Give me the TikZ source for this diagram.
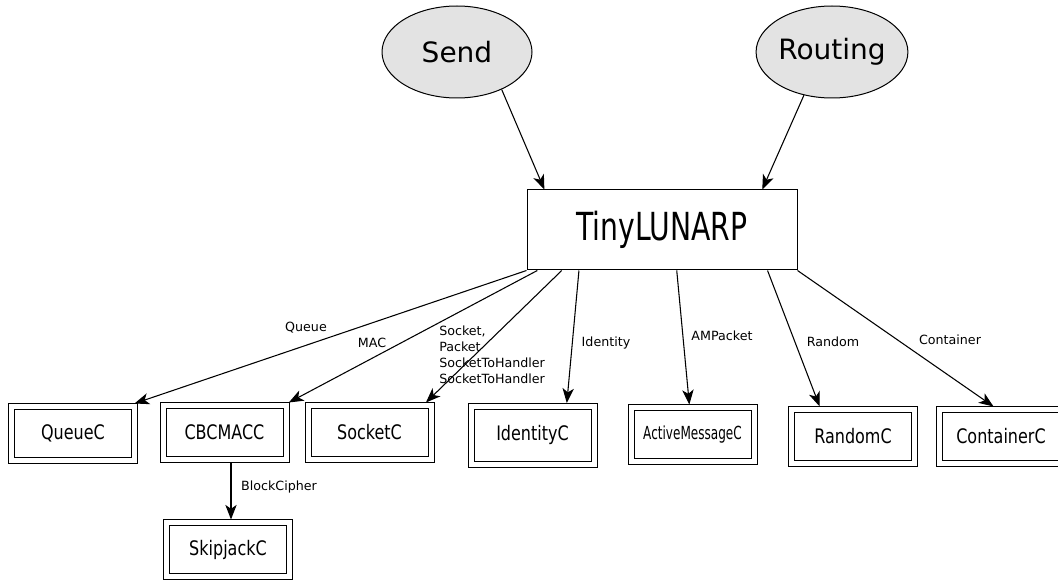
\documentclass[tikz,border=0pt]{standalone}
\usepackage{fontspec}
\setmainfont{DejaVu Sans}
\usepackage{graphicx}
\usetikzlibrary{arrows.meta,shapes.geometric}
\begin{document}
\begin{tikzpicture}[x=0.75pt,y=-0.75pt,
  every node/.style={inner sep=0pt},
  ell/.style={ellipse,draw,line width=0.75pt,fill=gray!22,minimum width=112.5pt,minimum height=69pt,font=\fontsize{21}{25}\selectfont},
  mainbox/.style={rectangle,draw,line width=0.75pt,minimum width=202.5pt,minimum height=60pt,outer sep=0.375pt},
  comp/.style={rectangle,draw,double,double distance=3.75pt,line width=0.75pt,outer sep=2.25pt,minimum width=92.25pt,minimum height=40.5pt,font=\fontsize{15}{18}\selectfont},
  elab/.style={font=\fontsize{9.5}{12}\selectfont},
  conn/.style={line width=0.8pt,-{Stealth[length=11pt,width=8.5pt,inset=3pt]}}
]
\useasboundingbox (0,0) rectangle (1058,581);

\node[ell] (Send) at (457,52) {Send};
\node[ell] (Routing) at (832,52) {Routing};
\node[mainbox] (Tiny) at (662,230) {\fontsize{29}{34}\selectfont\scalebox{0.73}[1]{TinyLUNARP}};

\node[comp] (QueueC) at (73,433.5) {\scalebox{0.8}[1]{QueueC}};
\node[comp] (CBCMACC) at (224.5,432.5) {\scalebox{0.8}[1]{CBCMACC}};
\node[comp] (SocketC) at (369.5,432.5) {\scalebox{0.8}[1]{SocketC}};
\node[comp,minimum height=43.5pt] (IdentityC) at (532.5,435) {\scalebox{0.8}[1]{IdentityC}};
\node[comp,font=\fontsize{13.5}{16}\selectfont] (AMC) at (692.5,434.5) {\scalebox{0.67}[1]{ActiveMessageC}};
\node[comp] (RandomC) at (853,436.5) {\scalebox{0.8}[1]{RandomC}};
\node[comp] (ContainerC) at (1001,436.5) {\scalebox{0.8}[1]{ContainerC}};
\node[comp] (SkipjackC) at (228,549.5) {\scalebox{0.8}[1]{SkipjackC}};

\draw[conn] (Send.-40) -- (Tiny.161.7);
\draw[conn] (Routing.237.2) -- (Tiny.22.8);

\draw[conn] (Tiny.south west) -- (QueueC.26.2);
\draw[conn] (Tiny.198.9) -- (CBCMACC.25.3);
\draw[conn] (Tiny.202) -- (SocketC.28);
\draw[conn] (Tiny.206.9) -- (IdentityC.43.7);
\draw[conn] (Tiny.290.6) -- (AMC.96.5);
\draw[conn] (Tiny.339) -- (RandomC.138.9);
\draw[conn] (Tiny.south east) -- (ContainerC.104.9);
\draw[conn] ([xshift=4.875pt]CBCMACC.south) -- ([xshift=4.875pt]CBCMACC.south |- SkipjackC.north);

\node[elab] (lQueue) at (306,328) {Queue};
\node[elab] (lMAC) at (372,343) {MAC};
\node[elab,align=left,anchor=west] (lSocket) at (439,355) {Socket,\\Packet\\SocketToHandler\\SocketToHandler};
\node[elab] (lIdentity) at (606,343) {Identity};
\node[elab] (lAMPacket) at (722,336) {AMPacket};
\node[elab] (lRandom) at (833,342) {Random};
\node[elab] (lContainer) at (950,340) {Container};
\node[elab] (lBlock) at (279,487) {BlockCipher};
\end{tikzpicture}
\end{document}
